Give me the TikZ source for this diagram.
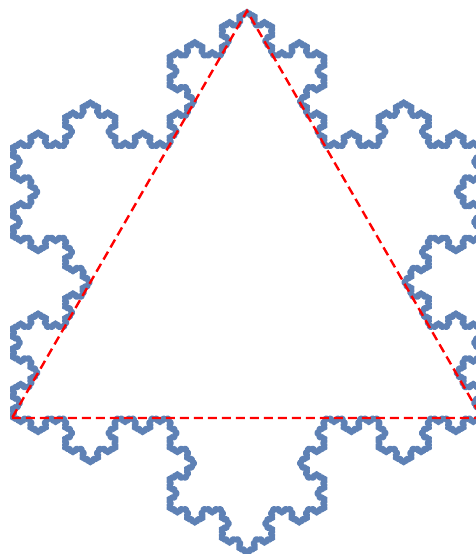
\documentclass[tikz,border=0pt]{standalone}
\usetikzlibrary{lindenmayersystems}
\definecolor{kochblue}{RGB}{94,129,181}
\pgfdeclarelindenmayersystem{Koch snow}{\rule{F -> F-F++F-F}}
\tikzset{
  flake/.style={draw=kochblue, line width=2.3pt, line join=round, line cap=round},
  tri/.style={draw=red, line width=1.2pt, dash pattern=on 4.5pt off 2.5pt}
}
\begin{document}
\begin{tikzpicture}[x=0.5pt,y=0.5pt]
\useasboundingbox (0,0) rectangle (476,554);
\clip (0,0) rectangle (476,554);
\coordinate (A) at (12,136);
\coordinate (B) at (482,136);
\coordinate (C) at (247,543.03);
\begin{scope}[shift={(A)}]
\draw[flake, l-system={Koch snow, axiom=F++F++F, order=5, step=0.96708pt, angle=60}] lindenmayer system -- cycle;
\end{scope}
\draw[tri] (A) -- (B) -- (C) -- cycle;
\end{tikzpicture}
\end{document}
